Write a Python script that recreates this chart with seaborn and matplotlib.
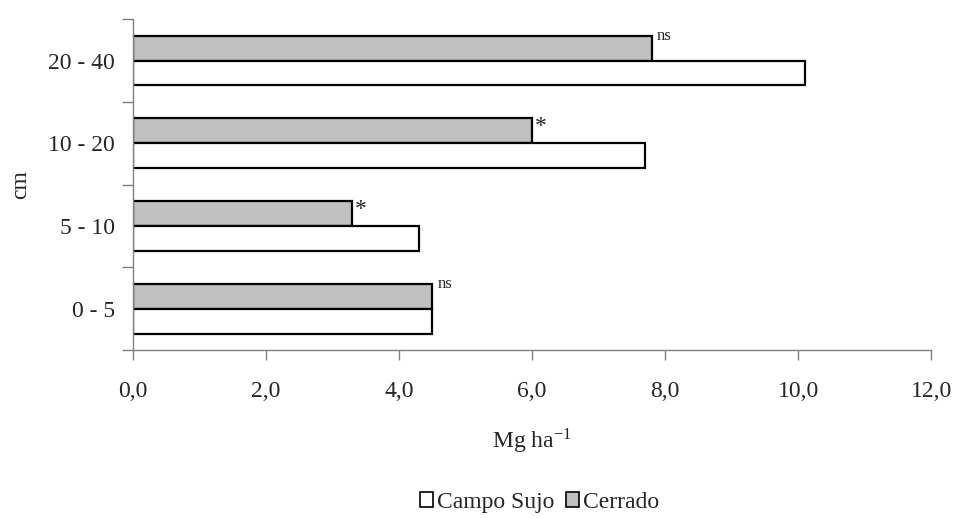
import numpy as np
import pandas as pd
import matplotlib
matplotlib.use("Agg")
import matplotlib.pyplot as plt
from matplotlib.patches import Patch
import seaborn as sns

# data (Mg ha-1)
depths = ["20 - 40", "10 - 20", "5 - 10", "0 - 5"]
campo_sujo = [10.1, 7.7, 4.3, 4.5]
cerrado = [7.8, 6.0, 3.3, 4.5]
signif = ["ns", "*", "*", "ns"]
xticks = [0, 2, 4, 6, 8, 10, 12]

df = pd.DataFrame({
    "depth": depths * 2,
    "area": ["Cerrado"] * 4 + ["Campo Sujo"] * 4,
    "value": cerrado + campo_sujo,
})

sns.set_theme(style="white")
plt.rcParams["font.family"] = ["Liberation Serif", "DejaVu Serif"]
plt.rcParams["mathtext.fontset"] = "stix"

fig = plt.figure(figsize=(9.55, 5.18), dpi=100)
ax = fig.add_axes([0.139, 0.324, 0.836, 0.639])

colors = {"Cerrado": "#c0c0c0", "Campo Sujo": "white"}
sns.barplot(data=df, x="value", y="depth", hue="area", orient="h",
            order=depths, hue_order=["Cerrado", "Campo Sujo"],
            palette=colors, edgecolor="black", linewidth=1.6,
            width=0.6, legend=False, ax=ax)

# significance marks next to the Cerrado bars
for i, (v, s) in enumerate(zip(cerrado, signif)):
    if s == "ns":
        ax.text(v + 0.08, i - 0.3, s, fontsize=12, va="center", ha="left")
    else:
        ax.text(v + 0.04, i - 0.2, s, fontsize=17, va="center", ha="left")

ax.set_xlim(0, 12)
ax.set_ylim(3.5, -0.5)
ax.set_xticks(xticks)
ax.set_xticklabels([f"{t:.1f}".replace(".", ",") for t in xticks], fontsize=17)

# excel-like category axis: ticks between groups, labels at centers
ax.set_yticks(np.arange(-0.5, 4, 1.0))
ax.set_yticklabels([])
ax.set_yticks(np.arange(4), minor=True)
ax.set_yticklabels(depths, minor=True, fontsize=17)
ax.tick_params(axis="y", which="minor", length=0, pad=13)
ax.tick_params(axis="y", which="major", left=True, length=8, width=1, color="#808080", direction="out")
ax.tick_params(axis="x", bottom=True, length=7, width=1, color="#808080", direction="out", pad=15)

for side in ["top", "right"]:
    ax.spines[side].set_visible(False)
for side in ["left", "bottom"]:
    ax.spines[side].set_color("#808080")
    ax.spines[side].set_linewidth(1)

ax.set_ylabel("cm", fontsize=17, labelpad=12)
ax.set_xlabel(r"Mg ha$^{\mathregular{-1}}$", fontsize=17, labelpad=18)

handles = [Patch(facecolor="white", edgecolor="black", linewidth=1.2, label="Campo Sujo"),
           Patch(facecolor="#c0c0c0", edgecolor="black", linewidth=1.2, label="Cerrado")]
fig.legend(handles=handles, loc="center", bbox_to_anchor=(0.565, 0.03), ncol=2,
           frameon=False, fontsize=17, handlelength=0.55, handleheight=0.6,
           handletextpad=0.15, columnspacing=0.5)

fig.savefig("out.png", dpi=100)
